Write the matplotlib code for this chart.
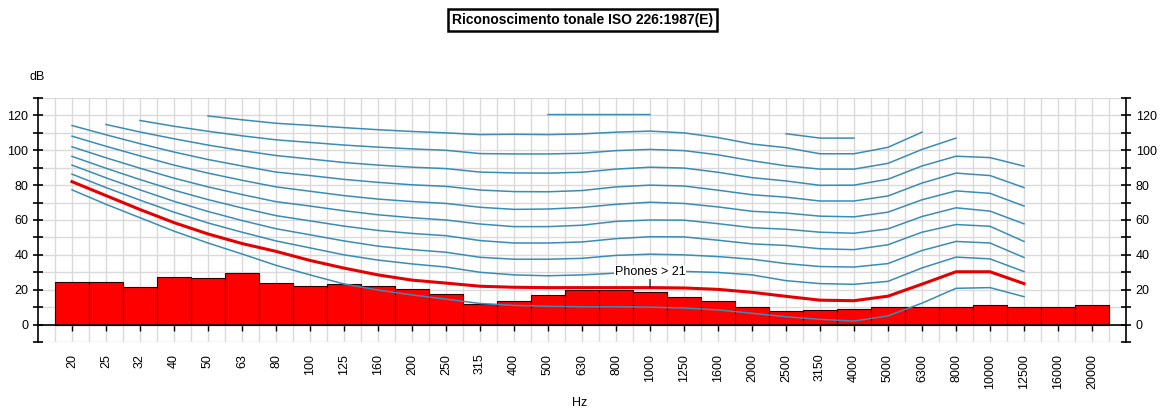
"""
Riconoscimento tonale - spettro a terzi d'ottava con isofoniche ISO 226:1987
"""
import numpy as np
import matplotlib
matplotlib.use("Agg")
import matplotlib.pyplot as plt
from matplotlib.ticker import MultipleLocator

plt.rcParams["font.family"] = ["Liberation Sans", "DejaVu Sans"]

nan = np.nan

# third-octave bands (Hz)
bands = ["20", "25", "32", "40", "50", "63", "80", "100", "125", "160", "200",
         "250", "315", "400", "500", "630", "800", "1000", "1250", "1600", "2000",
         "2500", "3150", "4000", "5000", "6300", "8000", "10000", "12500", "16000", "20000"]

# measured levels (dB)
levels = [24.3, 24.3, 21.7, 27.2, 26.6, 29.8, 23.7, 22.4, 23.1, 22.4, 20.4,
          17.6, 11.6, 13.6, 17.2, 19.8, 20.0, 18.5, 15.6, 13.5, 10.2,
          7.7, 8.3, 8.8, 10.2, 10.2, 10.2, 11.0, 10.2, 10.2, 11.0]

# equal loudness contours (dB), one per phon level
c10 = [77.3, 69, 61.3, 53.6, 46.8, 40.5, 34, 28.5, 23.3, 19.8, 17, 14.6, 12.1, 11, 10.5, 10.2,
       10.2, 10, 9.5, 8.4, 6.5, 4.5, 3, 2, 5, 12.3, 20.8, 21.2, 16, nan, nan]
c21 = [82, 74, 66, 58.5, 52, 46.5, 42, 36.8, 32.4, 28.5, 25.5, 23.8, 22, 21.4, 21.2, 21.2,
       21.2, 21.2, 21, 20.2, 18.5, 16.2, 14, 13.7, 16.3, 23.2, 30.3, 30.3, 23.5, nan, nan]
c30 = [86.3, 78.6, 71.4, 64.5, 58.3, 53, 48, 44, 40, 37, 34.8, 33, 30, 28.5, 28, 28.5,
       29.5, 30.2, 30.5, 29.9, 28.5, 25.2, 23.5, 23.1, 24.8, 32.5, 38.7, 37.7, 30.4, nan, nan]
c40 = [91.5, 84.2, 77.3, 70.7, 64.9, 59.7, 55, 51.5, 48, 45, 43, 41.5, 38.6, 37.5, 37.5, 38,
       39.7, 40.4, 40, 39, 37.5, 35, 33.3, 33, 35, 42.5, 47.7, 46.8, 38.5, nan, nan]
c50 = [96.5, 89.7, 83.2, 77.1, 71.7, 66.9, 62.5, 59.5, 56.5, 54, 52.3, 51, 48.2, 46.8, 46.8, 47.4,
       49.3, 50.4, 50.3, 48.4, 46.3, 45.4, 43.5, 43, 45.8, 53, 57.4, 56.4, 47.7, nan, nan]
c60 = [102, 95.7, 89.7, 84, 79, 74.6, 70.5, 68, 65.3, 63, 61.3, 60, 57.7, 56.2, 56.2, 57,
       59.2, 60, 59.9, 57.9, 55.6, 54.7, 53, 52.4, 54.9, 62, 67, 65.1, 57.8, nan, nan]
c70 = [108.1, 102.3, 96.8, 91.5, 86.9, 82.8, 79, 76.5, 74, 72, 70.6, 69.5, 67.3, 66.1, 66.3, 67.2,
       69, 70.2, 69.5, 67.5, 65, 64, 62.2, 61.8, 64.5, 71.6, 76.7, 75.3, 68, nan, nan]
c80 = [114.2, 108.9, 103.8, 99, 94.7, 91, 87.5, 85.5, 83.3, 81.6, 80.2, 79.3, 77.2, 76.3, 76.2, 76.9,
       79, 80, 79.5, 77.1, 74.5, 73.1, 70.9, 70.9, 73.8, 81.2, 86.9, 85.5, 78.6, nan, nan]
c90 = [nan, 114.8, 110.5, 106.6, 103, 99.8, 97, 95, 93, 91.5, 90.3, 89.5, 87.5, 87, 86.9, 87.4,
       89.2, 90.3, 89.8, 87.4, 84.3, 82.4, 79.9, 80, 83.4, 91, 96.6, 95.8, 90.9, nan, nan]
c100 = [nan, nan, 117.1, 113.8, 110.9, 108.3, 106, 104.5, 103, 101.8, 100.8, 100, 98.1, 97.9, 97.9, 98.3,
        99.8, 100.5, 99.8, 97.4, 94, 91.1, 89.2, 89.2, 92.5, 100.5, 107, nan, nan, nan, nan]
c110 = [nan, nan, nan, nan, 119.7, 117.5, 115.5, 114.3, 113, 111.8, 110.8, 110, 109, 109.2, 109, 109.4,
        110.4, 111, 110, 107.3, 103.6, 101.5, 98, 98, 101.7, 110.4, nan, nan, nan, nan, nan]
c120 = [nan, nan, nan, nan, nan, nan, nan, nan, nan, nan, nan, nan, nan, nan, 120.5, 120.5,
        120.5, 120.5, nan, nan, nan, 109.5, 107, 107, nan, nan, nan, nan, nan, nan, nan]

contours = [c10, c30, c40, c50, c60, c70, c80, c90, c100, c110, c120]

W, H = 1165, 412


def main():
    fig = plt.figure(figsize=(W / 100, H / 100), dpi=100)
    ax = fig.add_axes([38 / W, 1 - 342 / H, 1088 / W, 244 / H])

    x = np.arange(len(bands))
    ax.bar(x, levels, width=1.0, color="#ff0000", edgecolor="#2a0000", linewidth=0.8, zorder=2)
    for c in contours:
        ax.plot(x, c, color="#3a8cb6", lw=1.1, zorder=3)
    ax.plot(x, c21, color="#e40000", lw=2.2, zorder=4)

    ax.annotate("Phones > 21", xy=(17, 21.2), xytext=(17, 30.2), ha="center", va="center",
                fontsize=9, zorder=5,
                bbox=dict(boxstyle="square,pad=0.05", fc="white", ec="none"),
                arrowprops=dict(arrowstyle="-", color="black", lw=0.8, shrinkA=0, shrinkB=0))

    ax.set_xlim(-1, 31)
    ax.set_ylim(-10, 130)
    ax.set_xticks(x)
    ax.set_xticklabels(bands)
    ax.set_xticks(np.arange(-0.5, 31, 1.0), minor=True)
    ax.yaxis.set_major_locator(MultipleLocator(20))
    ax.yaxis.set_minor_locator(MultipleLocator(10))
    ax.grid(which="both", color="#dadada", lw=1.0)
    ax.set_axisbelow(True)

    ax.spines["top"].set_visible(False)
    ax.spines["bottom"].set_position(("data", 0))
    for s in ["left", "right", "bottom"]:
        ax.spines[s].set_color("black")
        ax.spines[s].set_linewidth(1.2)

    ax.tick_params(axis="x", which="major", direction="out", length=4, width=1, pad=17,
                   labelsize=9, labelrotation=90)
    ax.tick_params(axis="x", which="minor", length=0)
    ax.tick_params(axis="y", which="both", direction="inout", length=7, width=1.2,
                   left=True, right=True, labelleft=True, labelright=True, labelsize=9)

    fig.text(0.5, 1 - 20 / H, "Riconoscimento tonale ISO 226:1987(E)", ha="center", va="center",
             fontsize=10, fontweight="bold",
             bbox=dict(boxstyle="square,pad=0.3", fc="white", ec="black", lw=1.8))
    fig.text(37 / W, 1 - 77 / H, "dB", ha="center", va="center", fontsize=9)
    fig.text(580 / W, 1 - 403 / H, "Hz", ha="center", va="center", fontsize=9)

    fig.savefig("out.png", dpi=100)
    plt.close(fig)


if __name__ == "__main__":
    main()
